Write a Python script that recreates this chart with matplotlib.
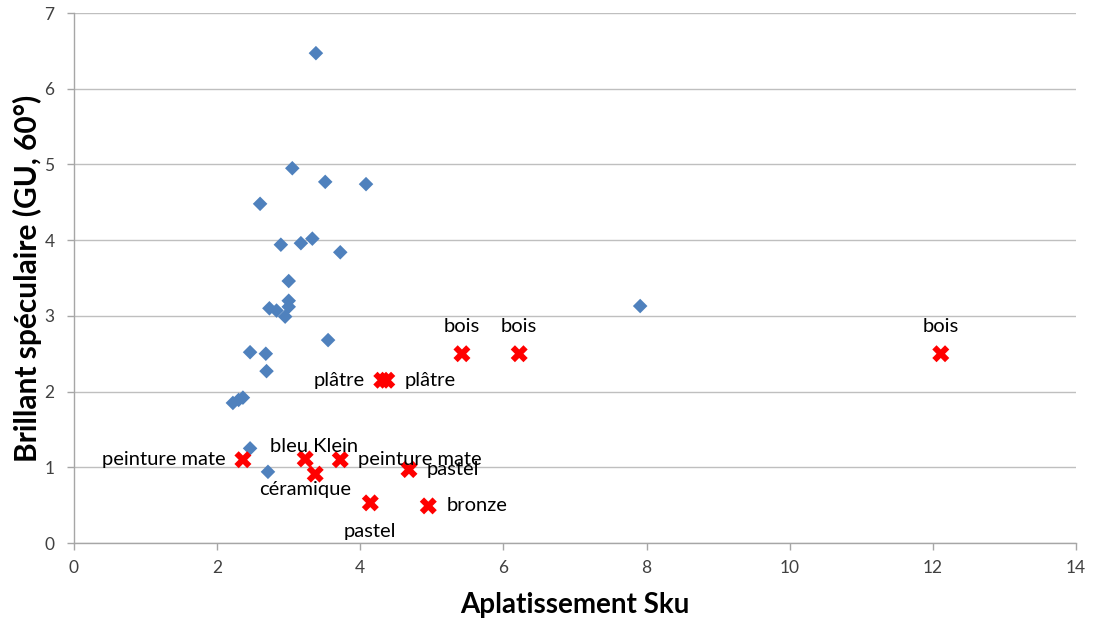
import matplotlib
matplotlib.use("Agg")
import matplotlib.pyplot as plt

plt.rcParams['font.family'] = ['Lato', 'DejaVu Sans']

# Blue series (diamonds)
blue_x = [3.38, 3.05, 3.51, 4.08, 2.60, 2.89, 3.17, 3.33, 3.72, 3.00, 3.00, 3.00,
          2.73, 2.83, 2.95, 3.55, 2.46, 2.68, 2.69, 2.22, 2.30, 2.36, 2.46, 2.71, 7.91]
blue_y = [6.47, 4.95, 4.77, 4.74, 4.48, 3.94, 3.96, 4.02, 3.84, 3.46, 3.20, 3.12,
          3.10, 3.07, 2.99, 2.68, 2.52, 2.50, 2.27, 1.85, 1.89, 1.92, 1.25, 0.94, 3.13]

# Red series (labelled crosses)
red_x = [5.42, 6.22, 12.11, 4.30, 4.37, 2.36, 3.23, 3.72, 3.37, 4.68, 4.14, 4.95]
red_y = [2.50, 2.50, 2.50, 2.15, 2.15, 1.10, 1.11, 1.10, 0.91, 0.97, 0.53, 0.49]
red_labels = ["bois", "bois", "bois", "plâtre", "plâtre", "peinture mate",
              "bleu Klein", "peinture mate", "céramique", "pastel", "pastel", "bronze"]
label_pos = ["above", "above", "above", "left", "right", "left",
             "above_near", "right", "below_near", "right", "below", "right"]

x_ticks = [0, 2, 4, 6, 8, 10, 12, 14]
y_ticks = [0, 1, 2, 3, 4, 5, 6, 7]

fig = plt.figure(figsize=(10.93, 6.21), dpi=100)
ax = fig.add_axes([0.0677, 0.1256, 0.9168, 0.8534])

ax.set_xlim(0, 14)
ax.set_ylim(0, 7)
ax.set_xticks(x_ticks)
ax.set_yticks(y_ticks)
ax.yaxis.grid(True, color='#BFBFBF', linewidth=1.0)
ax.set_axisbelow(True)
for s in ['top', 'right']:
    ax.spines[s].set_visible(False)
for s in ['left', 'bottom']:
    ax.spines[s].set_color('#A6A6A6')
    ax.spines[s].set_linewidth(1.0)
ax.tick_params(axis='both', colors='#A6A6A6', length=5, width=1,
               labelsize=12.5, labelcolor='#404040')
ax.tick_params(axis='y', pad=9)
ax.tick_params(axis='x', pad=7)

ax.scatter(blue_x, blue_y, marker='D', s=55, color='#4F81BD', edgecolors='none', zorder=3)
ax.scatter(red_x, red_y, marker='X', s=150, color='#FF0000', edgecolors='none', zorder=3)

k = 0.72  # px -> points
offsets = {"above": ((0, 27 * k), 'center', 'center'),
           "above_near": ((9 * k, 12 * k), 'center', 'center'),
           "below": ((0, -29 * k), 'center', 'center'),
           "below_near": ((-10 * k, -15 * k), 'center', 'center'),
           "left": ((-17 * k, 0), 'right', 'center'),
           "right": ((18 * k, 0), 'left', 'center')}
for x, y, lab, pos in zip(red_x, red_y, red_labels, label_pos):
    off, ha, va = offsets[pos]
    ax.annotate(lab, (x, y), xytext=off, textcoords='offset points',
                ha=ha, va=va, fontsize=14.5, color='#000000', zorder=4)

ax.set_xlabel("Aplatissement Sku", fontsize=20, fontweight='bold', labelpad=12)
ax.set_ylabel("Brillant spéculaire (GU, 60°)", fontsize=21.5, fontweight='bold', labelpad=2)

fig.savefig("out.png", dpi=100)
